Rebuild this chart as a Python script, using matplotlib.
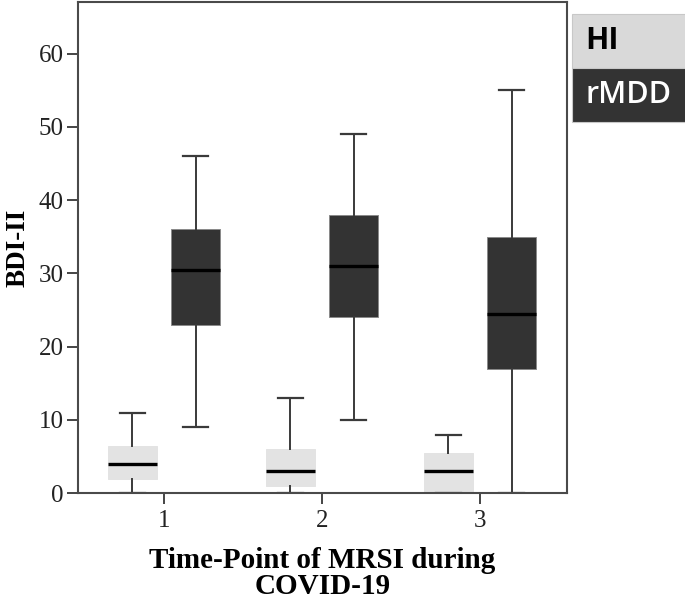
import matplotlib
matplotlib.use("Agg")
import matplotlib.pyplot as plt
from matplotlib.patches import Rectangle

# Data
timepoints = [1, 2, 3]
groups = ["HI", "rMDD"]
hi_whislo = [0, 0, 0]
hi_q1 = [2, 1, 0]
hi_med = [4, 3, 3]
hi_q3 = [6.5, 6, 5.5]
hi_whishi = [11, 13, 8]
rmdd_whislo = [9, 10, 0]
rmdd_q1 = [23, 24, 17]
rmdd_med = [30.5, 31, 24.5]
rmdd_q3 = [36, 38, 35]
rmdd_whishi = [46, 49, 55]
yticks = [0, 10, 20, 30, 40, 50, 60]

fig = plt.figure(figsize=(6.85, 6.02), dpi=100)
ax = fig.add_axes([0.1134, 0.1806, 0.7148, 0.8156])

line_col = "#3a3a3a"
offset = 0.2
width = 0.31

def stats(lo, q1, med, q3, hi):
    return [dict(whislo=a, q1=b, med=c, q3=d, whishi=e, fliers=[])
            for a, b, c, d, e in zip(lo, q1, med, q3, hi)]

for st, pos, fc, ec in [
    (stats(hi_whislo, hi_q1, hi_med, hi_q3, hi_whishi),
     [t - offset for t in timepoints], "#e3e3e3", "#e3e3e3"),
    (stats(rmdd_whislo, rmdd_q1, rmdd_med, rmdd_q3, rmdd_whishi),
     [t + offset for t in timepoints], "#333333", "#8a8a8a"),
]:
    ax.bxp(st, positions=pos, widths=width, patch_artist=True,
           showfliers=False, manage_ticks=False,
           boxprops=dict(facecolor=fc, edgecolor=ec, linewidth=0.7),
           whiskerprops=dict(color=line_col, linewidth=1.4),
           capprops=dict(color=line_col, linewidth=1.6),
           capwidths=width * 0.5,
           medianprops=dict(color="black", linewidth=2.4, solid_capstyle="butt"))

ax.set_xlim(0.454, 3.553)
ax.set_ylim(0, 67)
ax.set_xticks(timepoints)
ax.set_xticklabels([str(t) for t in timepoints])
ax.set_yticks(yticks)
ax.set_yticklabels([str(v) for v in yticks])

serif = ["Liberation Serif", "DejaVu Serif"]
for lab in ax.get_xticklabels() + ax.get_yticklabels():
    lab.set_fontfamily(serif)
    lab.set_fontsize(18)
    lab.set_color("#222222")
ax.tick_params(axis="both", direction="out", length=8, width=1.4,
               color="#444444", pad=2)
ax.tick_params(axis="x", pad=4)
for sp in ax.spines.values():
    sp.set_color("#4a4a4a")
    sp.set_linewidth(1.5)

ax.set_xlabel("Time-Point of MRSI during\nCOVID-19", fontfamily=serif,
              fontsize=21, fontweight="bold", linespacing=0.95, labelpad=11)
ax.set_ylabel("BDI-II", fontfamily=serif, fontsize=19.5, fontweight="bold",
              labelpad=6)

# Legend boxes (figure pixel coordinates converted to fractions)
W, H = 685.0, 602.0
leg_x0, leg_x1 = 572, 686
cells = [(14, 68, "#d9d9d9", "HI", "black", "bold"),
         (68, 122, "#333333", "rMDD", "white", "semibold")]
for y0, y1, fc, txt, tc, fw in cells:
    fig.patches.append(Rectangle((leg_x0 / W, 1 - y1 / H),
                                 (leg_x1 - leg_x0) / W, (y1 - y0) / H,
                                 transform=fig.transFigure, facecolor=fc,
                                 edgecolor="#c8c8c8", linewidth=0.8))
    fig.text(585 / W, 1 - (y0 + y1) / 2 / H, txt, color=tc, fontsize=22,
             fontweight=fw, family=["Open Sans", "DejaVu Sans"],
             ha="left", va="center")

fig.savefig("out.png", dpi=100)
